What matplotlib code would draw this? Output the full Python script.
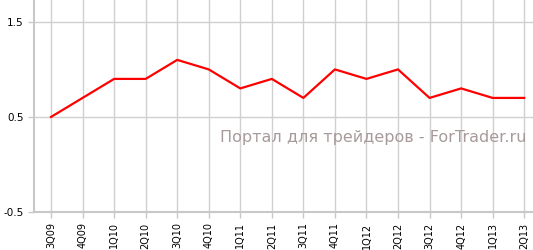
import numpy as np
import matplotlib.pyplot as plt

quarters = ["3Q09", "4Q09", "1Q10", "2Q10", "3Q10", "4Q10", "1Q11", "2Q11",
            "3Q11", "4Q11", "1Q12", "2Q12", "3Q12", "4Q12", "1Q13", "2Q13"]
values = [0.5, 0.7, 0.9, 0.9, 1.1, 1.0, 0.8, 0.9,
          0.7, 1.0, 0.9, 1.0, 0.7, 0.8, 0.7, 0.7]
y_ticks = [-0.5, 0.5, 1.5]

fig = plt.figure(figsize=(5.33, 2.5), dpi=100)
ax = fig.add_axes([34/533, 38/250, 1 - 34/533, 1 - 38/250])

x = np.arange(len(quarters))
ax.plot(x, values, color="#ff0000", lw=1.6, zorder=3)

ax.set_xlim(-0.54, 15.28)
ax.set_ylim(-0.5, 1.73)
ax.set_xticks(x)
ax.set_xticklabels(quarters, rotation=90, fontsize=7)
ax.set_yticks(y_ticks)
ax.set_yticklabels([str(v) for v in y_ticks], fontsize=7.5)

ax.grid(True, color="#d0d0d0", lw=1)
ax.set_axisbelow(True)
for s in ["top", "right"]:
    ax.spines[s].set_visible(False)
for s in ["left", "bottom"]:
    ax.spines[s].set_color("#c8c8c8")
    ax.spines[s].set_linewidth(1.5)
ax.tick_params(colors="#c8c8c8", labelcolor="#000000", length=4, width=1)

ax.text(0.987, 0.35, "Портал для трейдеров - ForTrader.ru", transform=ax.transAxes,
        ha="right", va="center", fontsize=11.5, color="#a89a9a", zorder=4)

fig.savefig("out.png", dpi=100)
